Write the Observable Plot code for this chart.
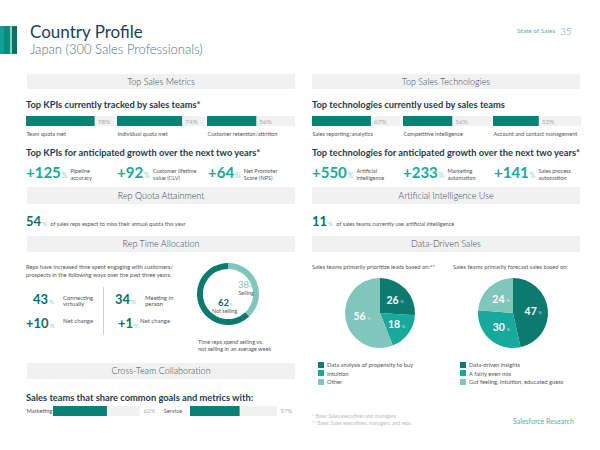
<!DOCTYPE html>
<html>
<head>
<meta charset="utf-8">
<script src="https://cdn.jsdelivr.net/npm/d3@7"></script>
<script src="https://cdn.jsdelivr.net/npm/@observablehq/plot@0.6"></script>
<style>
  html, body { margin: 0; padding: 0; background: #fff; }
  #page { position: relative; width: 600px; height: 450px; overflow: hidden; font-family: Lato, "Open Sans", sans-serif; color: #333; }
  .abs { position: absolute; white-space: nowrap; line-height: 1; }
  .band { position: absolute; background: #f1f1f1; text-align: center; font-weight: 300; font-size: 9px; color: #3b4a55; }
  .h2 { position: absolute; font-size: 9.3px; font-weight: 700; color: #1f3b4d; white-space: nowrap; line-height: 1; }
  .tiny { font-size: 5.6px; color: #555; line-height: 1.3; }
  svg { overflow: visible; }
</style>
</head>
<body>
<div id="page"></div>
<script>
// ---------------- data ----------------
const kpiLabels = ["Team quota met", "Individual quota met", "Customer retention/attrition"];
const kpiValues = [78, 74, 56];
const techLabels = ["Sales reporting/analytics", "Competitive intelligence", "Account and contact management"];
const techValues = [67, 56, 52];
const kpiGrowthLabels = [["Pipeline", "accuracy"], ["Customer lifetime", "value (CLV)"], ["Net Promoter", "Score (NPS)"]];
const kpiGrowthValues = [125, 92, 64];
const techGrowthLabels = [["Artificial", "intelligence"], ["Marketing", "automation"], ["Sales process", "automation"]];
const techGrowthValues = [550, 233, 141];
const quotaMissValue = 54;
const aiUseValue = 11;
const engageLabels = [["Connecting", "virtually"], ["Meeting in", "person"]];
const engageValues = [43, 34];
const engageChange = [10, 1];
const timeLabels = ["Selling", "Not selling"];
const timeValues = [38, 62];
const leadLabels = ["Data analysis of propensity to buy", "Intuition", "Other"];
const leadValues = [26, 18, 56];
const forecastLabels = ["Data-driven insights", "A fairly even mix", "Gut feeling, intuition, educated guess"];
const forecastValues = [47, 30, 24];
const collabLabels = ["Marketing", "Service"];
const collabValues = [62, 57];

// ---------------- styles ----------------
const TEAL = "#0b8075";
const DARK = "#0d7a70";
const MID = "#17a99c";
const LIGHT = "#80c6ba";
const TRACK = "#f1f1f1";
const FONT = "Lato, 'Open Sans', sans-serif";
const pieColors = [DARK, MID, LIGHT];

const page = document.getElementById("page");
function div(html, left, top, cls, style) {
  const d = document.createElement("div");
  d.className = cls || "abs";
  d.innerHTML = html;
  d.style.left = left + "px";
  d.style.top = top + "px";
  if (style) Object.assign(d.style, style);
  page.appendChild(d);
  return d;
}
function put(node, left, top) {
  const d = document.createElement("div");
  d.style.position = "absolute";
  d.style.left = left + "px";
  d.style.top = top + "px";
  d.style.lineHeight = "0";
  d.appendChild(node);
  page.appendChild(d);
}

// ---------------- header ----------------
const stripe = document.createElement("div");
Object.assign(stripe.style, {position: "absolute", left: "0px", top: "26px", width: "17px", height: "28px",
  background: "linear-gradient(to right, #12a094 0 4px, #0c8a7e 4px 10px, #7fd0c5 10px 12px, #0d6f66 12px 17px)"});
page.appendChild(stripe);
div("Country Profile", 30, 23, "abs", {fontSize: "17px", color: "#1e3f54"});
div("Japan (300 Sales Professionals)", 30, 42.5, "abs", {fontSize: "13px", color: "#4f7285", fontWeight: "300"});
div("State of Sales", 517, 27.5, "abs", {fontSize: "6.5px", color: "#4fb3a9"});
div("35", 560, 25.5, "abs", {fontSize: "10px", color: "#4fb3a9", fontWeight: "300"});

function band(text, left, top, width, height) {
  div(text, left, top, "band", {width: width + "px", height: height + "px", lineHeight: height + "px"});
}
band("Top Sales Metrics", 27, 74, 268, 15);
band("Top Sales Technologies", 312, 74, 268, 15);
band("Rep Quota Attainment", 27, 187, 268, 17);
band("Artificial Intelligence Use", 312, 187, 268, 17);
band("Rep Time Allocation", 27, 236, 268, 16);
band("Data-Driven Sales", 312, 236, 268, 16);
band("Cross-Team Collaboration", 27, 363, 268, 16);

// ---------------- KPI bars ----------------
function kpiBar(label, value) {
  return Plot.plot({
    width: 88, height: 26, marginTop: 0, marginBottom: 16, marginLeft: 0, marginRight: 0,
    x: {domain: [0, 100], axis: null},
    style: {background: "transparent", fontFamily: FONT, overflow: "visible"},
    marks: [
      Plot.barX([100], {x: d => d, fill: TRACK}),
      Plot.barX([value], {x: d => d, fill: TEAL}),
      Plot.text([value], {x: d => d, text: d => d + "%", textAnchor: "start", dx: 2.5, fill: "#aaa", fontSize: 6.5}),
      Plot.text([label], {frameAnchor: "bottom-left", text: d => d, dy: 9, textAnchor: "start", fill: "#555", fontSize: 5.6})
    ]
  });
}
div("Top KPIs currently tracked by sales teams*", 26, 100, "h2");
div("Top technologies currently used by sales teams", 312, 100, "h2");
const barStep = 90.5;
kpiValues.forEach((v, i) => put(kpiBar(kpiLabels[i], v), 26 + i * barStep, 116));
techValues.forEach((v, i) => put(kpiBar(techLabels[i], v), 312 + i * barStep, 116));

// ---------------- growth numbers ----------------
div("Top KPIs for anticipated growth over the next two years*", 26, 147.5, "h2");
div("Top technologies for anticipated growth over the next two years*", 312, 147.5, "h2");
function growth(value, lines, left, top) {
  div(`<span style="font-weight:700;color:#17a99c">+${value}</span><span style="font-size:7px;color:#8fd3c9;margin-left:1px">%</span>`, left, top, "abs", {fontSize: "15px"});
  const w = (String(value).length + 1) * 8.6 + 8;
  div(lines.join("<br>"), left + w + 2, top + 2, "abs tiny");
}
const growthStep = 91;
kpiGrowthValues.forEach((v, i) => growth(v, kpiGrowthLabels[i], 26 + i * growthStep, 164.5));
techGrowthValues.forEach((v, i) => growth(v, techGrowthLabels[i], 312 + i * growthStep, 164.5));

// ---------------- quota / AI ----------------
function bigStat(value, text, left, top) {
  div(`<span style="font-weight:700;color:#0d6f66">${value}</span><span style="font-size:6.5px;color:#9fcfc8;margin:0 3px 0 1px">%</span><span style="font-size:5.6px;color:#555">${text}</span>`, left, top, "abs", {fontSize: "13px"});
}
bigStat(quotaMissValue, "of sales reps expect to miss their annual quota this year", 26, 215);
bigStat(aiUseValue, "of sales teams currently use artificial intelligence", 312, 215);

// ---------------- rep time allocation ----------------
div("Reps have increased time spent engaging with customers/<br>prospects in the following ways over the past three years.", 26, 262.5, "abs tiny", {lineHeight: "1.4", fontSize: "5.8px"});
function engage(value, lines, left, top, numW) {
  div(`<span style="font-weight:700;color:#0d6f66">${value}</span><span style="font-size:6.5px;color:#9fcfc8;margin-left:1px">%</span>`, left, top, "abs", {fontSize: "13px"});
  div(lines.join("<br>"), left + numW, top + 1.5, "abs tiny", {fontSize: "6px", lineHeight: "1.15"});
}
engage(engageValues[0], engageLabels[0], 33, 293, 30);
engage(engageValues[1], engageLabels[1], 115, 293, 30);
engage("+" + engageChange[0], ["Net change"], 26, 316.5, 37);
engage("+" + engageChange[1], ["Net change"], 118, 316.5, 22);
const vline = document.createElement("div");
Object.assign(vline.style, {position: "absolute", left: "103px", top: "287px", width: "0.8px", height: "48px", background: "#cfcfcf"});
page.appendChild(vline);

// arc drawing helper (function mark using the plot's scales)
function arcMark(values, colors, innerFrac) {
  return (index, scales, channels, dims) => {
    const cx = scales && scales.x ? scales.x(0) : dims.width / 2;
    const cy = scales && scales.y ? scales.y(0) : dims.height / 2;
    const r = scales && scales.x ? scales.x(1) - scales.x(0) : dims.width / 2;
    const arcs = d3.pie().sort(null).value(d => d)(values);
    const arc = d3.arc().innerRadius(r * innerFrac).outerRadius(r);
    const g = d3.create("svg:g").attr("transform", `translate(${cx},${cy})`);
    g.selectAll("path").data(arcs).join("path").attr("d", arc).attr("fill", (d, i) => colors[i]);
    return g.node();
  };
}

// donut
const donut = Plot.plot({
  width: 62, height: 62, margin: 0,
  x: {domain: [-1, 1], axis: null}, y: {domain: [-1, 1], axis: null},
  style: {background: "transparent", fontFamily: FONT, overflow: "visible"},
  marks: [
    Plot.dot([0], {x: 0, y: 0, r: 0}),
    arcMark(timeValues, [LIGHT, DARK], 0.81)
  ]
});
put(donut, 197, 263);
div(`<span>${timeValues[0]}</span><span style="font-size:4.5px;color:#9fcfc8">%</span>`, 238, 279.5, "abs", {fontSize: "9.5px", color: "#7fc4b8", lineHeight: "9.5px"});
div(timeLabels[0], 238.5, 290.5, "abs", {fontSize: "5.3px", color: "#555"});
div(`<span style="font-weight:700;color:#0d6f66">${timeValues[1]}</span><span style="font-size:4.5px;color:#9fcfc8">%</span>`, 218, 298, "abs", {fontSize: "9.5px", lineHeight: "9.5px"});
div(timeLabels[1], 212, 308.5, "abs", {fontSize: "5.4px", color: "#555"});
div("Time reps spend selling vs.<br>not selling in an average week", 198, 338, "abs tiny", {width: "60px", textAlign: "center", fontSize: "5.6px", lineHeight: "1.3"});

// ---------------- data-driven pies ----------------
div("Sales teams primarily prioritize leads based on:**", 312, 263, "abs tiny", {fontSize: "5.8px"});
div("Sales teams primarily forecast sales based on:", 453, 263, "abs tiny", {fontSize: "5.8px"});
function pie(values) {
  const arcs = d3.pie().sort(null).value(d => d)(values);
  const cen = d3.arc().innerRadius(0).outerRadius(1.1);
  const pts = arcs.map((a, i) => { const c = cen.centroid(a); return {x: c[0], y: -c[1], v: values[i]}; });
  return Plot.plot({
    width: 70, height: 70, margin: 0,
    x: {domain: [-1, 1], axis: null}, y: {domain: [-1, 1], axis: null},
    style: {background: "transparent", fontFamily: FONT, overflow: "visible"},
    marks: [
      arcMark(values, pieColors, 0),
      Plot.text(pts, {x: "x", y: "y", text: d => String(d.v), fill: "white", fontSize: 10.5, fontWeight: 700, dx: -2}),
      Plot.text(pts, {x: "x", y: "y", text: () => "%", fill: "white", fillOpacity: 0.7, fontSize: 4.5, dx: 7.5, dy: 1.5})
    ]
  });
}
put(pie(leadValues), 345, 278);
put(pie(forecastValues), 478, 278);
function legend(labels, left, top) {
  labels.forEach((l, i) => {
    div(`<span style="display:inline-block;width:6px;height:6px;background:${pieColors[i]};vertical-align:middle;margin-right:3px"></span><span style="vertical-align:middle">${l}</span>`, left, top + i * 8.7, "abs tiny", {fontSize: "5.8px", lineHeight: "7px"});
  });
}
legend(leadLabels, 318, 360);
legend(forecastLabels, 460, 360);

// ---------------- cross-team ----------------
div("Sales teams that share common goals and metrics with:", 26, 393, "h2");
function collabBar(label, value) {
  return Plot.plot({
    width: 132, height: 10, marginTop: 0, marginBottom: 0, marginLeft: 27, marginRight: 18,
    x: {domain: [0, 100], axis: null},
    style: {background: "transparent", fontFamily: FONT, overflow: "visible"},
    marks: [
      Plot.barX([100], {x: d => d, fill: TRACK}),
      Plot.barX([value], {x: d => d, fill: TEAL}),
      Plot.text([label], {frameAnchor: "left", text: d => d, dx: -27, textAnchor: "start", fill: "#555", fontSize: 5.8}),
      Plot.text([value], {frameAnchor: "right", text: d => d + "%", dx: 3, textAnchor: "start", fill: "#aaa", fontSize: 6})
    ]
  });
}
collabValues.forEach((v, i) => put(collabBar(collabLabels[i], v), 26 + i * 137, 406));

// ---------------- footer ----------------
div("* Base: Sales executives and managers.<br>** Base: Sales executives, managers, and reps.", 312, 412.5, "abs tiny", {fontSize: "5px", color: "#bbb", lineHeight: "1.4"});
div("Salesforce Research", 513, 417.5, "abs", {fontSize: "7px", color: "#4fb3a9"});
</script>
</body>
</html>
